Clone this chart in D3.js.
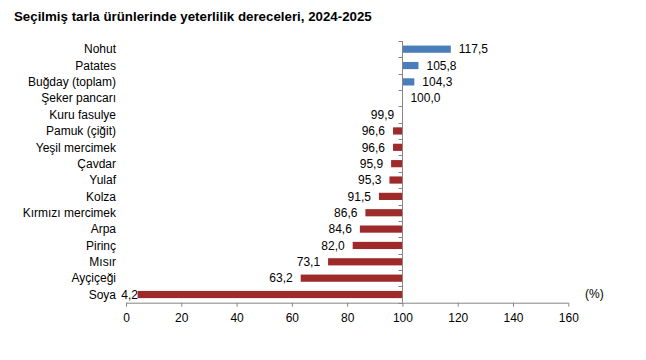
<!DOCTYPE html>
<html><head><meta charset="utf-8">
<script src="https://cdn.jsdelivr.net/npm/d3@7"></script>
<style>body{margin:0;background:#fff}svg{display:block}text{font-family:"Liberation Sans",Arial,sans-serif}</style>
</head><body>
<script>
const title = "Seçilmiş tarla ürünlerinde yeterlilik dereceleri, 2024-2025";
const categories = ["Nohut","Patates","Buğday (toplam)","Şeker pancarı","Kuru fasulye","Pamuk (çiğit)","Yeşil mercimek","Çavdar","Yulaf","Kolza","Kırmızı mercimek","Arpa","Pirinç","Mısır","Ayçiçeği","Soya"];
const values = [117.5,105.8,104.3,100.0,99.9,96.6,96.6,95.9,95.3,91.5,86.6,84.6,82.0,73.1,63.2,4.2];
const xTicks = [0,20,40,60,80,100,120,140,160];
const baseline = 100;
const unitLabel = "(%)";

const W = 646, H = 360;
const svg = d3.select("body").append("svg").attr("width", W).attr("height", H);
const x = d3.scaleLinear().domain([0,160]).range([126,568.3]);
const y = d3.scaleBand().domain(categories).range([41,302.7]).paddingInner(0.56).paddingOuter(0.28);
const step = y.step();
const axisColor = "#868686";

svg.append("text").attr("x",14).attr("y",21).attr("font-size",13.3).attr("font-weight","bold").attr("fill","#000").text(title);

const fmt = v => v.toFixed(1).replace(".", ",");
const data = categories.map((c,i)=>({c, v: values[i]}));

svg.selectAll("rect.bar").data(data).join("rect")
  .attr("x", d => x(Math.min(d.v, baseline)))
  .attr("width", d => Math.abs(x(d.v) - x(baseline)))
  .attr("y", d => y(d.c))
  .attr("height", y.bandwidth())
  .attr("fill", d => d.v >= baseline ? "#4A7EBB" : "#9E2B2A");

// x axis
const xAxis = d3.axisBottom(x).tickValues(xTicks).tickSize(4).tickFormat(d3.format("d"));
const gx = svg.append("g").attr("transform", `translate(0,302.7)`).call(xAxis);
gx.select(".domain").attr("stroke", axisColor).attr("d", `M${x(0)},0.5H${x(160)}`);
gx.selectAll(".tick line").attr("stroke", axisColor);
gx.selectAll(".tick text").attr("font-size",12).attr("fill","#000").attr("dy","1.0em").attr("font-family",'"Liberation Sans",Arial,sans-serif');

// vertical baseline axis with ticks at category boundaries
const vx = Math.round(x(baseline)) + 0.5;
svg.append("line").attr("x1",vx).attr("x2",vx).attr("y1",41).attr("y2",302.7).attr("stroke",axisColor);
const bounds = d3.range(categories.length+1).map(i => 41 + i*step);
svg.selectAll("line.yt").data(bounds).join("line")
  .attr("x1", vx-4).attr("x2", vx).attr("y1", d => Math.round(d)+0.5).attr("y2", d => Math.round(d)+0.5)
  .attr("stroke", axisColor);

// category labels
svg.selectAll("text.cat").data(categories).join("text")
  .attr("x",116).attr("y", d => y(d) + y.bandwidth()/2).attr("dy","0.35em")
  .attr("text-anchor","end").attr("font-size",12).attr("fill","#000").text(d => d);

// value labels
svg.selectAll("text.val").data(data).join("text")
  .attr("x", d => d.v >= baseline ? x(d.v) + 8 : Math.max(x(d.v) - 8, x(0) + 12))
  .attr("y", d => y(d.c) + y.bandwidth()/2).attr("dy","0.35em")
  .attr("text-anchor", d => d.v >= baseline ? "start" : "end")
  .attr("font-size",12).attr("fill","#000").text(d => fmt(d.v));

svg.append("text").attr("x",585).attr("y",298).attr("font-size",12).attr("fill","#000").text(unitLabel);
</script>
</body></html>
